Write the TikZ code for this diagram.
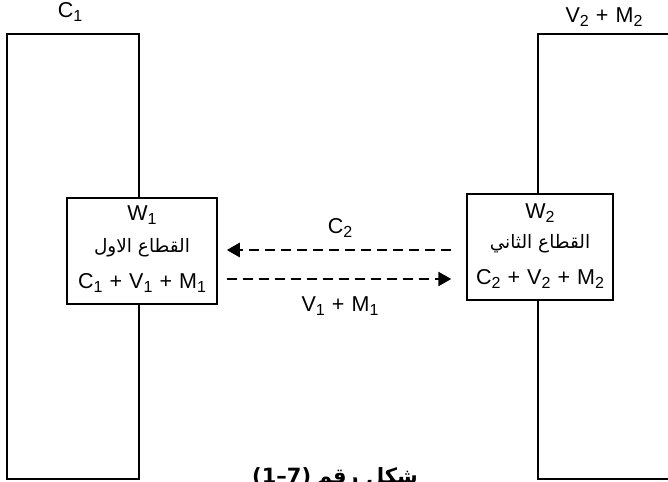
\documentclass[tikz,border=0pt]{standalone}
\usepackage{fontspec}
\setmainfont{Liberation Sans}
\newfontfamily\arabicfont[Script=Arabic]{DejaVu Sans}
\newfontfamily\numfont{DejaVu Sans}
\TeXXeTstate=1
\usetikzlibrary{arrows.meta}
\newcommand\sbs[1]{\raisebox{-0.32ex}{\fontsize{16}{18}\selectfont #1}}
\newcommand\pls{\hskip0.33em+\hskip0.33em}
\begin{document}
\begin{tikzpicture}[x=1pt,y=-1pt,
  bigrect/.style={draw, line width=2.2pt, inner sep=0pt, minimum height=445pt, minimum width=#1},
  sector/.style={draw, line width=1.5pt, fill=white, inner sep=0pt, minimum width=150pt, minimum height=106pt},
  lbl/.style={font=\fontsize{21.5}{24}\selectfont, inner sep=0pt},
  arlbl/.style={font=\arabicfont\fontsize{18.5}{22}\selectfont, inner sep=0pt},
  capfont/.style={font=\numfont\bfseries\fontsize{21}{25}\selectfont, inner sep=0pt},
  darr/.style={line width=2.6pt, dash pattern=on 10pt off 6pt, -{Triangle[length=13pt,width=14pt]}}]
\useasboundingbox (0,0) rectangle (668,481);
\clip (0,0) rectangle (668,481);
% big rectangles
\node[bigrect=132pt] (bigL) at (73,256.5) {};
\node[bigrect=160pt] (bigR) at (618,256.5) {};
\node[lbl] (c1) at (70,12) {C\sbs{1}};
\node[lbl] (v2m2) at (604,17) {V\sbs{2}\pls M\sbs{2}};
% sector boxes
\node[sector] (b1) at (142,251) {};
\node[sector, minimum width=146pt] (b2) at (540,247) {};
\node[lbl] (w1) at (142,215) {W\sbs{1}};
\node[arlbl] (s1) at (142,248) {\beginR القطاع الاول\endR};
\node[lbl] (f1) at (142,283) {C\sbs{1}\pls V\sbs{1}\pls M\sbs{1}};
\node[lbl] (w2) at (540,213) {W\sbs{2}};
\node[arlbl] (s2) at (540,244) {\beginR القطاع الثاني\endR};
\node[lbl] (f2) at (540,279) {C\sbs{2}\pls V\sbs{2}\pls M\sbs{2}};
% arrows
\coordinate (ya) at (0,250);
\coordinate (yb) at (0,279);
\draw[darr, shorten <=15pt, shorten >=9pt] (b2.west |- ya) -- (b1.east |- ya);
\draw[darr, shorten <=9pt, shorten >=15pt] (b1.east |- yb) -- (b2.west |- yb);
\node[lbl] (c2) at (340,228) {C\sbs{2}};
\node[lbl] (v1m1) at (340,306) {V\sbs{1}\pls M\sbs{1}};
% caption
\node[capfont, anchor=north west] (capnum) at (252,467) {(1–7)};
\node[font=\arabicfont\bfseries\fontsize{21}{25}\selectfont, inner sep=0pt, anchor=north west] (cap) at ([xshift=5pt]capnum.north east) {\beginR شكل رقم\endR};
\end{tikzpicture}
\end{document}
